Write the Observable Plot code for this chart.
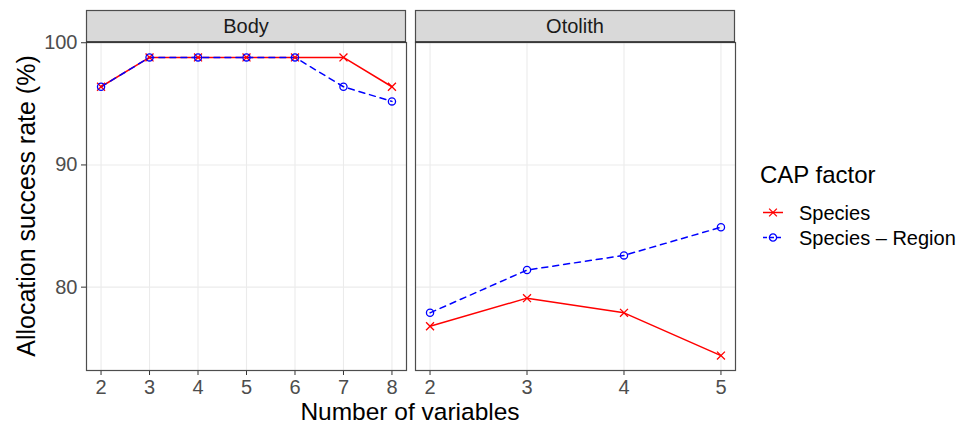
<!DOCTYPE html>
<html>
<head>
<meta charset="utf-8">
<script src="https://cdn.jsdelivr.net/npm/d3@7"></script>
<script src="https://cdn.jsdelivr.net/npm/@observablehq/plot@0.6"></script>
<style>
  html, body { margin: 0; padding: 0; background: #fff; }
  #wrap { position: relative; width: 976px; height: 424px; overflow: hidden; }
  #wrap svg { position: absolute; left: 0; top: 0; }
</style>
</head>
<body>
<div id="wrap"></div>
<script>
// ---- data ----
const panels = ["Body", "Otolith"];
const seriesNames = ["Species", "Species \u2013 Region"];
const bodyX = [2, 3, 4, 5, 6, 7, 8];
const bodySpecies = [96.4, 98.8, 98.8, 98.8, 98.8, 98.8, 96.4];
const bodyRegion = [96.4, 98.8, 98.8, 98.8, 98.8, 96.4, 95.2];
const otolithX = [2, 3, 4, 5];
const otolithSpecies = [76.8, 79.1, 77.9, 74.4];
const otolithRegion = [77.9, 81.4, 82.6, 84.9];
const yTicks = [80, 90, 100];
const xTitle = "Number of variables";
const yTitle = "Allocation success rate (%)";
const legendTitle = "CAP factor";

// ---- style ----
const FONT = "'Liberation Sans', Arial, Helvetica, sans-serif";
const RED = "#FF0000", BLUE = "#0000FF";
const BORDER = "#4D4D4D";
const W = 976, H = 424, MT = 42, MB = 54;
const yDomain = [73.18, 100.02];

const wrap = document.getElementById("wrap");

function panel(xs, sp, rg, mLeft, mRight, showY) {
  const spData = xs.map((x, i) => ({x, y: sp[i]}));
  const rgData = xs.map((x, i) => ({x, y: rg[i]}));
  const ext = d3.extent(xs);
  const pad = (ext[1] - ext[0]) * 0.05;
  return Plot.plot({
    width: W, height: H,
    marginLeft: mLeft, marginRight: mRight, marginTop: MT, marginBottom: MB,
    x: {domain: [ext[0] - pad, ext[1] + pad], label: null},
    y: {domain: yDomain, label: null, axis: null},
    style: {fontFamily: FONT, background: "transparent", overflow: "visible"},
    marks: [
      Plot.gridX(xs, {stroke: "#EBEBEB", strokeOpacity: 1, strokeWidth: 1.1}),
      Plot.gridY(yTicks, {stroke: "#EBEBEB", strokeOpacity: 1, strokeWidth: 1.1}),
      Plot.axisX(xs, {tickSize: 5, tickPadding: 4, stroke: "#333333", fill: "#4D4D4D", fontSize: 20, label: null}),
      showY ? Plot.axisY(yTicks, {tickSize: 5, tickPadding: 4, stroke: "#333333", fill: "#4D4D4D", fontSize: 20, label: null}) : null,
      Plot.line(spData, {x: "x", y: "y", stroke: RED, strokeWidth: 1.5}),
      Plot.line(rgData, {x: "x", y: "y", stroke: BLUE, strokeWidth: 1.5, strokeDasharray: "6,5"}),
      Plot.dot(spData, {x: "x", y: "y", symbol: "times", r: 3.7, stroke: RED, strokeWidth: 1.3}),
      Plot.dot(rgData, {x: "x", y: "y", symbol: "circle", r: 3.6, stroke: BLUE, fill: "none", strokeWidth: 1.3}),
      Plot.frame({stroke: BORDER, strokeWidth: 1.2})
    ]
  });
}

wrap.appendChild(panel(bodyX, bodySpecies, bodyRegion, 86, W - 406, true));
wrap.appendChild(panel(otolithX, otolithSpecies, otolithRegion, 415, W - 735, false));

// ---- overlay: strips, axis titles, legend ----
const svg = d3.create("svg").attr("width", W).attr("height", H)
  .style("font-family", FONT).style("overflow", "visible");
const strips = [[86, 406], [415, 735]];
strips.forEach(([a, b], i) => {
  svg.append("rect").attr("x", a + 0.5).attr("y", 10.5).attr("width", b - a - 1).attr("height", 31.5)
    .attr("fill", "#D9D9D9").attr("stroke", BORDER).attr("stroke-width", 1.2);
  svg.append("line").attr("x1", a).attr("x2", b).attr("y1", 42).attr("y2", 42)
    .attr("stroke", "#333333").attr("stroke-width", 1.4);
  svg.append("text").attr("x", (a + b) / 2).attr("y", 33).attr("text-anchor", "middle")
    .attr("font-size", 20).attr("fill", "#1A1A1A").text(panels[i]);
});
svg.append("text").attr("x", 410).attr("y", 420).attr("text-anchor", "middle")
  .attr("font-size", 24.5).attr("fill", "#000").text(xTitle);
svg.append("text").attr("transform", "translate(35,206) rotate(-90)").attr("text-anchor", "middle")
  .attr("font-size", 25).attr("fill", "#000").text(yTitle);

// legend
svg.append("text").attr("x", 760).attr("y", 183).attr("font-size", 24).attr("fill", "#000").text(legendTitle);
const keys = [
  {name: seriesNames[0], color: RED, dash: null, sym: d3.symbolTimes, cy: 212.5},
  {name: seriesNames[1], color: BLUE, dash: "4,3", sym: d3.symbolCircle, cy: 237.5}
];
keys.forEach(k => {
  svg.append("line").attr("x1", 763).attr("x2", 783).attr("y1", k.cy).attr("y2", k.cy)
    .attr("stroke", k.color).attr("stroke-width", 1.5).attr("stroke-dasharray", k.dash);
  svg.append("path").attr("transform", `translate(773,${k.cy})`)
    .attr("d", d3.symbol(k.sym, Math.PI * 3.6 * 3.6)())
    .attr("fill", "none").attr("stroke", k.color).attr("stroke-width", 1.3);
  svg.append("text").attr("x", 799).attr("y", k.cy + 7.5).attr("font-size", 20).attr("fill", "#000").text(k.name);
});
wrap.appendChild(svg.node());
</script>
</body>
</html>
